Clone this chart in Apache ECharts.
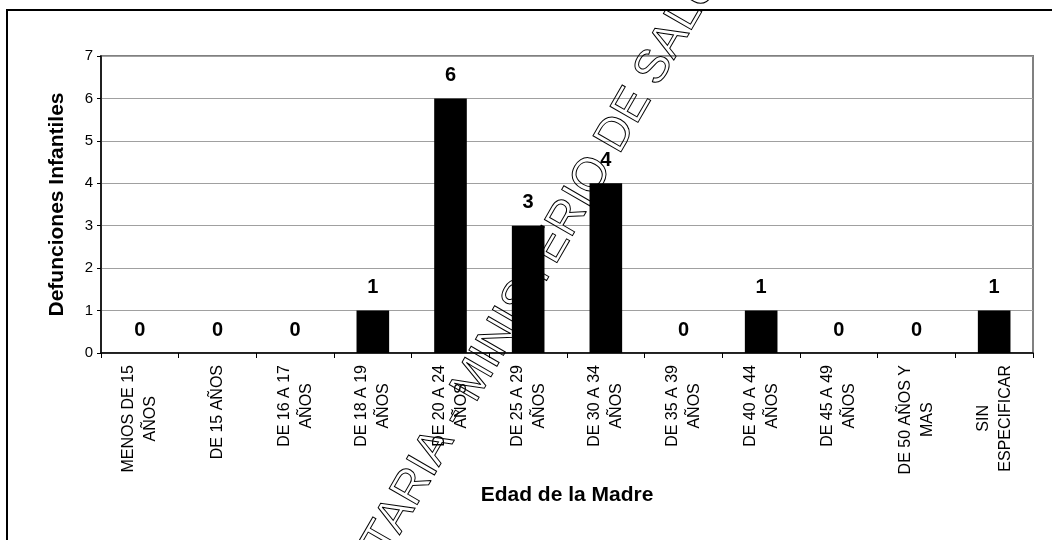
<!DOCTYPE html>
<html>
<head>
<meta charset="utf-8">
<script src="https://cdn.jsdelivr.net/npm/echarts@6/dist/echarts.min.js"></script>
<style>
  html, body { margin: 0; padding: 0; background: #fff; }
  #chart { width: 1052px; height: 540px; }
</style>
</head>
<body>
<div id="chart"></div>
<script>
// edades de la madre (categorias) y defunciones infantiles
const categorias = [
  'MENOS DE 15\nAÑOS', 'DE 15 AÑOS', 'DE 16 A 17\nAÑOS', 'DE 18 A 19\nAÑOS',
  'DE 20 A 24\nAÑOS', 'DE 25 A 29\nAÑOS', 'DE 30 A 34\nAÑOS', 'DE 35 A 39\nAÑOS',
  'DE 40 A 44\nAÑOS', 'DE 45 A 49\nAÑOS', 'DE 50 AÑOS Y\nMAS', 'SIN\nESPECIFICAR'
];
const defunciones = [0, 0, 0, 1, 6, 3, 4, 0, 1, 0, 0, 1];
const yTicks = [0, 1, 2, 3, 4, 5, 6, 7];

const FONT = '"Liberation Sans", Arial, sans-serif';
let chart = echarts.init(document.getElementById('chart'));

let option = {
  animation: false,
  backgroundColor: '#fff',
  grid: {
    left: 101, right: 19, top: 56, bottom: 187,
    show: true, borderColor: '#808080', borderWidth: 2
  },
  xAxis: {
    type: 'category',
    data: categorias,
    name: 'Edad de la Madre',
    nameLocation: 'middle',
    nameGap: 132,
    nameTextStyle: { fontFamily: FONT, fontSize: 21, fontWeight: 'bold', color: '#000' },
    axisLine: { lineStyle: { color: '#000', width: 1.5 } },
    axisTick: { show: true, length: 5, lineStyle: { color: '#000' } },
    axisLabel: {
      rotate: 90,
      margin: 12,
      interval: 0,
      fontFamily: FONT,
      fontSize: 16,
      lineHeight: 22,
      color: '#000',
      // cada linea centrada dentro del bloque
      formatter(v) {
        return v.split('\n').map(l => '{c|' + l + '}').join('\n');
      },
      rich: { c: { align: 'center', fontFamily: FONT, fontSize: 16, lineHeight: 22, color: '#000' } }
    }
  },
  yAxis: {
    type: 'value',
    min: yTicks[0],
    max: yTicks[yTicks.length - 1],
    interval: 1,
    name: 'Defunciones Infantiles',
    nameLocation: 'middle',
    nameGap: 33,
    nameTextStyle: { fontFamily: FONT, fontSize: 21, fontWeight: 'bold', color: '#000' },
    axisLine: { show: true, lineStyle: { color: '#000', width: 1.5 } },
    axisTick: { show: true, length: 4, lineStyle: { color: '#000' } },
    axisLabel: { fontFamily: FONT, fontSize: 15, color: '#000', margin: 8 },
    splitLine: { lineStyle: { color: '#a0a0a0', width: 1 } }
  },
  series: [{
    name: 'Defunciones Infantiles',
    type: 'bar',
    data: defunciones,
    barWidth: '42%',
    itemStyle: { color: '#000' },
    label: {
      show: true,
      position: 'top',
      distance: 13,
      fontFamily: FONT,
      fontSize: 20,
      fontWeight: 'bold',
      color: '#000'
    }
  }],
  graphic: [
    {
      type: 'rect',
      shape: { x: 7, y: 10, width: 1100, height: 600 },
      style: { fill: 'none', stroke: '#000', lineWidth: 2 },
      silent: true
    },
    {
      // marca de agua
      type: 'text',
      x: 510, y: 318,
      rotation: 60 * Math.PI / 180,
      z: 100,
      style: {
        text: 'SECRETARIA - MINISTERIO DE SALUD',
        font: 'normal 47px ' + FONT,
        fill: 'none',
        stroke: '#000',
        lineWidth: 1,
        align: 'center',
        verticalAlign: 'middle'
      },
      silent: true
    }
  ]
};
chart.setOption(option);
</script>
</body>
</html>
